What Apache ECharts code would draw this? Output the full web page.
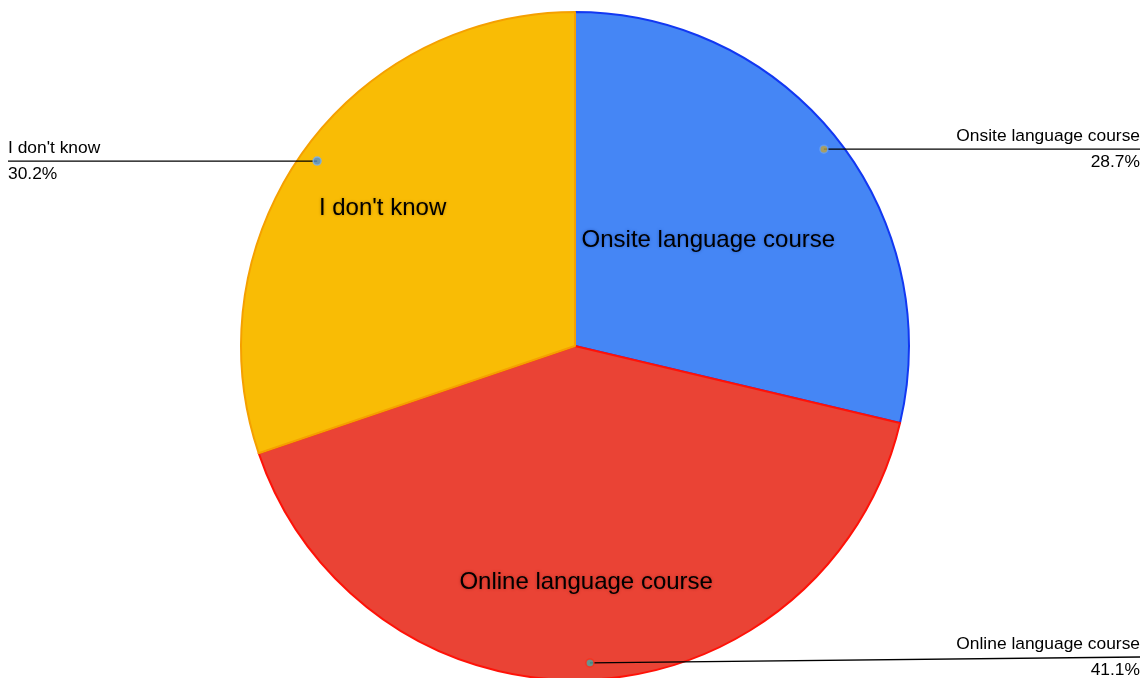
<!DOCTYPE html>
<html>
<head>
<meta charset="utf-8">
<script src="https://cdn.jsdelivr.net/npm/echarts@6/dist/echarts.min.js"></script>
<style>
  html, body { margin: 0; padding: 0; background: #ffffff; }
  #chart { width: 1148px; height: 678px; }
</style>
</head>
<body>
<div id="chart"></div>
<script>
// Survey answers and their shares (percent)
const categories = ['Onsite language course', 'Online language course', "I don't know"];
const shares = [28.7, 41.1, 30.2];

// Slice styling
const sliceColors = ['#4586f5', '#ea4335', '#f9bc05'];
const borderColors = ['#1238f2', '#ff1208', '#f5a000'];
const glowColors = ['#2a5cc0', '#b02a20', '#b88200'];
const dotFill = ['#c0a43e', '#49a7a2', '#4a8edb'];
const dotRing = ['#5f9dff', '#ff2a18', '#7fb1ec'];
// in-slice label placed at mid-radius (false) or further out (true)
const innerLabelOuter = [false, true, true];

const W = 1148, H = 678;
const CENTER = [575, 346];
const RADIUS = 334;
const EDGE = 8;
const FONT = '"Liberation Sans", Arial, sans-serif';

const chart = echarts.init(document.getElementById('chart'), null, { renderer: 'canvas' });

function pieBase(radius) {
  return {
    type: 'pie',
    center: CENTER,
    radius: radius,
    startAngle: 90,
    clockwise: true,
    silent: true,
    animation: false,
    avoidLabelOverlap: false,
    emphasis: { disabled: true }
  };
}

function innerLabel(i, show) {
  return {
    show: show,
    position: 'inside',
    color: '#000',
    fontFamily: FONT,
    fontSize: 24,
    textShadowColor: glowColors[i],
    textShadowBlur: 3,
    formatter: '{b}'
  };
}

// Main coloured pie, with the label of the slices placed at mid-radius
const mainPie = Object.assign(pieBase(RADIUS), {
  z: 2,
  data: categories.map((name, i) => ({
    name,
    value: shares[i],
    itemStyle: { color: sliceColors[i], borderColor: borderColors[i], borderWidth: 2 },
    label: innerLabel(i, !innerLabelOuter[i]),
    labelLine: { show: false }
  }))
});

// Transparent ring used only to place the remaining in-slice labels further out
const outerInnerLabels = Object.assign(pieBase(RADIUS * 1.4), {
  z: 3,
  data: categories.map((name, i) => ({
    name,
    value: shares[i],
    itemStyle: { color: 'rgba(0,0,0,0)', borderWidth: 0 },
    label: innerLabel(i, innerLabelOuter[i]),
    labelLine: { show: false }
  }))
});

// Transparent pie carrying the callout labels (name + percent) at the chart edges
const calloutPie = Object.assign(pieBase(RADIUS * 0.95), {
  z: 4,
  data: categories.map((name, i) => ({
    name,
    value: shares[i],
    itemStyle: { color: 'rgba(0,0,0,0)', borderWidth: 0 }
  })),
  label: {
    show: true,
    position: 'outside',
    alignTo: 'none',
    distanceToLabelLine: 4,
    formatter: '{n|{b}}\n{v|{c}%}',
    rich: {
      n: { fontFamily: FONT, fontSize: 17.4, color: '#000', lineHeight: 26 },
      v: { fontFamily: FONT, fontSize: 17.4, color: '#000', lineHeight: 26 }
    }
  },
  labelLine: {
    show: true,
    length: 0,
    length2: 10,
    smooth: false,
    lineStyle: { color: '#000', width: 1.3 }
  },
  labelLayout: function (params) {
    const pts = params.labelLinePoints;
    if (!pts) return {};
    const start = pts[0];
    const right = params.labelRect.x + params.labelRect.width / 2 > start[0];
    const x = right ? W - EDGE : EDGE;
    const y = Math.min(start[1], H - 21);
    return {
      x: x,
      y: y,
      align: right ? 'right' : 'left',
      verticalAlign: 'middle',
      labelLinePoints: [start, [x, y]]
    };
  }
});

// Anchor dots of the callouts, placed on a polar grid matching the pie
let cum = 0;
const dotData = shares.map((v, i) => {
  const mid = cum + v / 2;
  cum += v;
  return {
    value: [0.95, mid],
    itemStyle: { color: dotFill[i], borderColor: dotRing[i], borderWidth: 1.5 }
  };
});

const option = {
  backgroundColor: '#ffffff',
  animation: false,
  polar: { center: CENTER, radius: RADIUS },
  angleAxis: {
    type: 'value', min: 0, max: 100, startAngle: 90, clockwise: true,
    show: false, axisLine: { show: false }, splitLine: { show: false },
    axisTick: { show: false }, axisLabel: { show: false }
  },
  radiusAxis: {
    type: 'value', min: 0, max: 1, show: false,
    axisLine: { show: false }, splitLine: { show: false },
    axisTick: { show: false }, axisLabel: { show: false }
  },
  series: [
    mainPie,
    outerInnerLabels,
    calloutPie,
    {
      type: 'scatter',
      coordinateSystem: 'polar',
      symbol: 'circle',
      symbolSize: 8,
      z: 10,
      silent: true,
      data: dotData
    }
  ]
};

chart.setOption(option);
</script>
</body>
</html>
